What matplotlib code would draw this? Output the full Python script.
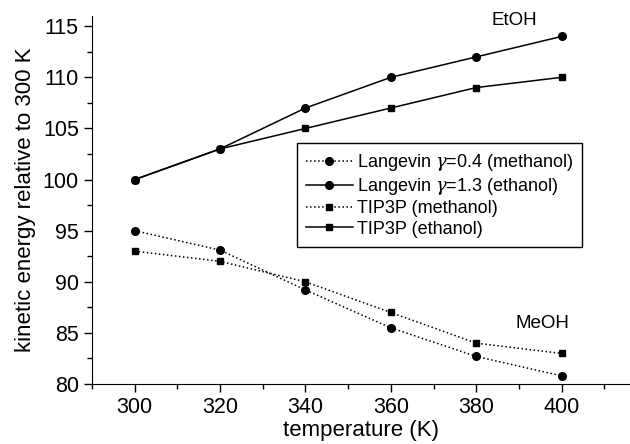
import matplotlib
matplotlib.use("Agg")
import matplotlib.pyplot as plt
from matplotlib.ticker import MultipleLocator

plt.rcParams['font.family'] = ['Liberation Sans', 'DejaVu Sans']
plt.rcParams['mathtext.fontset'] = 'custom'
plt.rcParams['mathtext.it'] = 'DejaVu Serif:italic'

temperature = [300, 320, 340, 360, 380, 400]
langevin_methanol = [95.0, 93.1, 89.2, 85.5, 82.7, 80.8]
langevin_ethanol = [100.0, 103.0, 107.0, 110.0, 112.0, 114.0]
tip3p_methanol = [93.0, 92.0, 90.0, 87.0, 84.0, 83.0]
tip3p_ethanol = [100.0, 103.0, 105.0, 107.0, 109.0, 110.0]
labels = ['Langevin $\\gamma$=0.4 (methanol)', 'Langevin $\\gamma$=1.3 (ethanol)',
          'TIP3P (methanol)', 'TIP3P (ethanol)']

fig = plt.figure(figsize=(6.3, 4.44), dpi=100)
ax = fig.add_axes([0.146, 0.135, 0.854, 0.829])

ax.plot(temperature, langevin_methanol, ':', color='black', marker='o', markersize=5.5, lw=1.1, label=labels[0])
ax.plot(temperature, langevin_ethanol, '-', color='black', marker='o', markersize=5.5, lw=1.1, label=labels[1])
ax.plot(temperature, tip3p_methanol, ':', color='black', marker='s', markersize=5, lw=1.1, label=labels[2])
ax.plot(temperature, tip3p_ethanol, '-', color='black', marker='s', markersize=5, lw=1.1, label=labels[3])

ax.set_xlim(290, 416)
ax.set_ylim(80, 116)
ax.xaxis.set_major_locator(MultipleLocator(20))
ax.xaxis.set_minor_locator(MultipleLocator(10))
ax.yaxis.set_major_locator(MultipleLocator(5))
ax.yaxis.set_minor_locator(MultipleLocator(2.5))
ax.spines['top'].set_visible(False)
ax.spines['right'].set_visible(False)
ax.tick_params(which='major', length=6, width=1, labelsize=15.5, direction='out')
ax.tick_params(which='minor', length=3.5, width=1, direction='out')

ax.set_xlabel('temperature (K)', fontsize=16, labelpad=1)
ax.set_ylabel('kinetic energy relative to 300 K', fontsize=16, labelpad=5)

ax.text(389, 115.6, 'EtOH', fontsize=13.5, ha='center', va='center')
ax.text(395.5, 85.9, 'MeOH', fontsize=13.5, ha='center', va='center')

leg = ax.legend(loc='upper left', bbox_to_anchor=(0.381, 0.655), borderaxespad=0, fontsize=13,
                frameon=True, fancybox=False, edgecolor='black', framealpha=1,
                handlelength=2.6, handletextpad=0.2, labelspacing=0.18, borderpad=0.5)
leg.get_frame().set_linewidth(1.0)

fig.savefig('out.png', dpi=100)
